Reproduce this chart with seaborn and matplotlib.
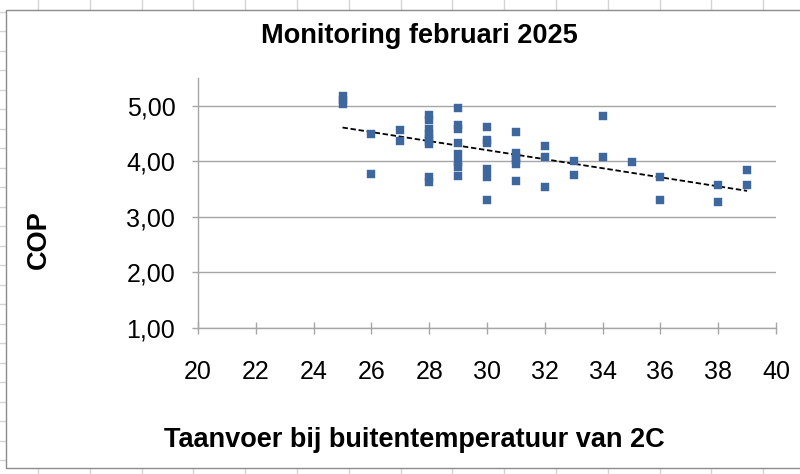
import numpy as np
import pandas as pd
import matplotlib
matplotlib.use('Agg')
import matplotlib.pyplot as plt
import seaborn as sns
from matplotlib.lines import Line2D
from matplotlib.patches import Rectangle
from matplotlib.ticker import FuncFormatter, MultipleLocator

# data (Taanvoer vs COP)
taanvoer = [25, 25, 25,
            26, 26,
            27, 27,
            28, 28, 28, 28, 28, 28, 28, 28, 28,
            29, 29, 29, 29, 29, 29, 29, 29,
            30, 30, 30, 30, 30, 30,
            31, 31, 31, 31, 31, 31,
            32, 32, 32,
            33, 33,
            34, 34,
            35,
            36, 36,
            38, 38,
            39, 39]
cop = [5.03, 5.10, 5.17,
       4.50, 3.78,
       4.57, 4.37,
       4.83, 4.75, 4.58, 4.50, 4.42, 4.36, 4.31, 3.72, 3.63,
       4.96, 4.65, 4.58, 4.33, 4.13, 3.98, 3.90, 3.74,
       4.61, 4.39, 4.33, 3.87, 3.72, 3.30,
       4.52, 4.15, 4.08, 4.02, 3.95, 3.65,
       4.28, 4.07, 3.53,
       4.01, 3.76,
       4.82, 4.07,
       3.98,
       3.71, 3.31,
       3.58, 3.26,
       3.84, 3.58]

title = 'Monitoring februari 2025'
xlabel = 'Taanvoer bij buitentemperatuur van 2C'
ylabel = 'COP'

df = pd.DataFrame({'taanvoer': taanvoer, 'cop': cop})

sns.set_theme(style='white')
plt.rcParams['font.family'] = ['Liberation Sans', 'DejaVu Sans']
plt.rcParams['text.color'] = 'black'

W, H = 800, 474
fig = plt.figure(figsize=(W / 100, H / 100), dpi=100)

def fx(px):
    return px / W

def fy(py):
    return 1 - py / H

# spreadsheet cells behind the chart
cell = '#d4d4d4'
for k in range(24):
    y = 12 + k * 19.48
    fig.add_artist(Line2D([0, fx(6)], [fy(y), fy(y)], color=cell, lw=1, zorder=0))
for k in range(15):
    x = 38 + k * 51.8
    fig.add_artist(Line2D([fx(x), fx(x)], [1, fy(10)], color=cell, lw=1, zorder=0))
    fig.add_artist(Line2D([fx(x), fx(x)], [fy(468), 0], color=cell, lw=1, zorder=0))

# chart area
fig.add_artist(Rectangle((fx(6), fy(468)), 1.0, (468 - 10) / H, facecolor='white',
                         edgecolor='#8c8c8c', lw=1, zorder=0.5))

ax = fig.add_axes([fx(198), fy(328), fx(776 - 198), (328 - 78) / H])
ax.set_zorder(2)
ax.set_facecolor('none')

sns.scatterplot(data=df, x='taanvoer', y='cop', marker='s', s=26, color='#3d679d',
                edgecolor='#3d679d', linewidth=0.3, ax=ax, zorder=3)
sns.regplot(data=df, x='taanvoer', y='cop', scatter=False, ci=None, ax=ax,
            line_kws=dict(color='black', lw=1.3, ls=(0, (3, 1.5))))

ax.set_xlim(20, 40)
ax.set_ylim(1, 5.5)
ax.xaxis.set_major_locator(MultipleLocator(2))
ax.yaxis.set_major_locator(MultipleLocator(1))
ax.yaxis.set_major_formatter(FuncFormatter(lambda v, p: f'{v:.2f}'.replace('.', ',')))
ax.grid(axis='y', color='#a6a6a6', lw=1)
ax.grid(axis='x', visible=False)
for side in ['top', 'right']:
    ax.spines[side].set_visible(False)
for side in ['left', 'bottom']:
    ax.spines[side].set_color('#a6a6a6')
    ax.spines[side].set_linewidth(1)
ax.tick_params(axis='y', direction='out', length=4.3, width=1, color='#a6a6a6',
               pad=12, labelsize=18, left=True, labelcolor='black')
ax.tick_params(axis='x', direction='inout', length=8.6, width=1, color='#a6a6a6',
               pad=19, labelsize=18, bottom=True, labelcolor='black')
ax.set_xlabel('')
ax.set_ylabel('')

fig.text(fx(419), fy(36), title, ha='center', va='center', fontsize=19.5, fontweight='bold')
fig.text(fx(414), fy(440), xlabel, ha='center', va='center', fontsize=19.5, fontweight='bold')
fig.text(fx(39), fy(240), ylabel, ha='center', va='center', rotation=90,
         fontsize=19.5, fontweight='bold')

fig.savefig('out.png', dpi=100)
